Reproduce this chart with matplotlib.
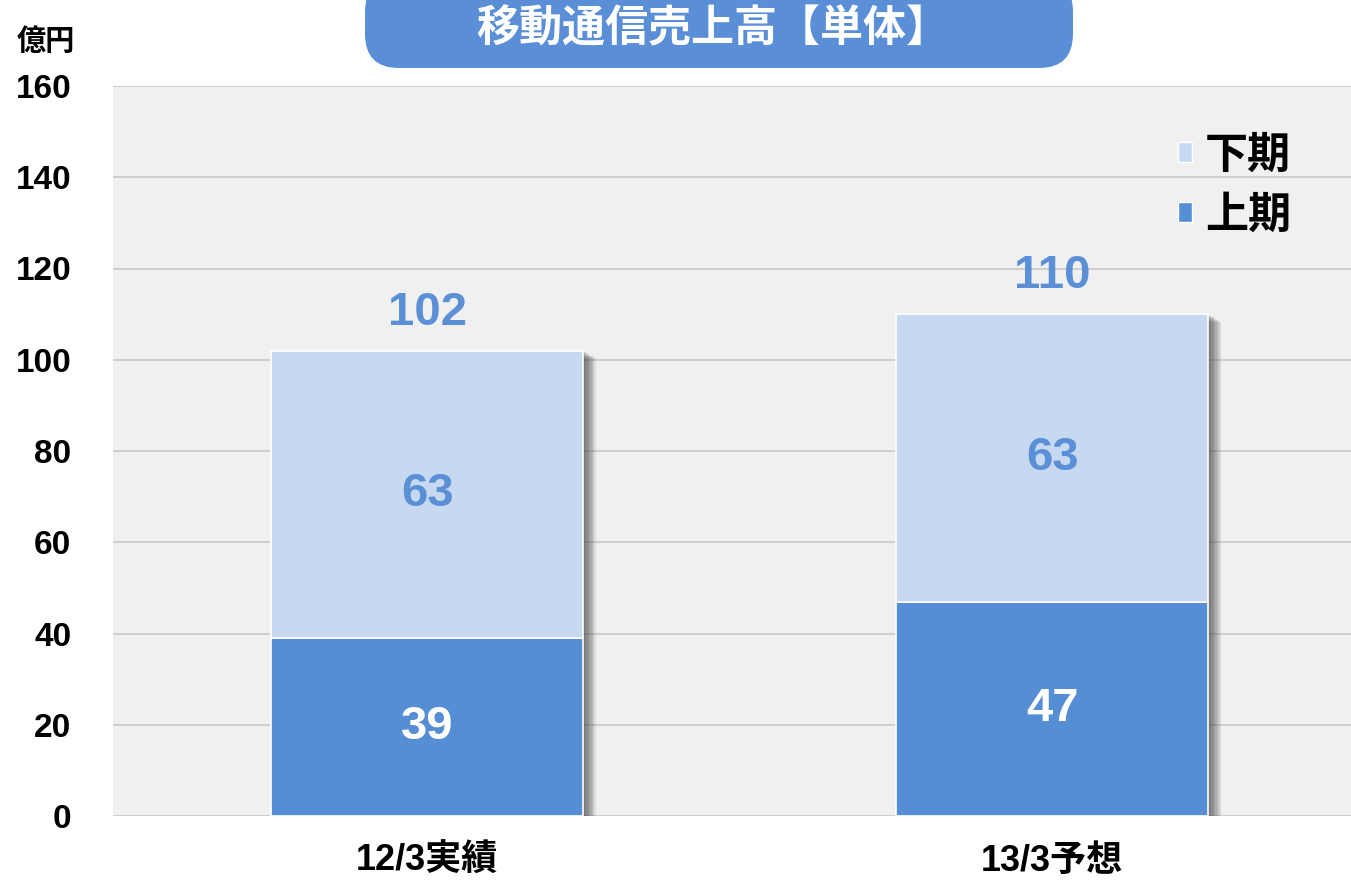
import matplotlib.pyplot as plt
import matplotlib.patheffects as pe
from matplotlib.patches import FancyBboxPatch, Patch

plt.rcParams['font.family'] = ['Liberation Sans', 'Noto Sans CJK JP', 'DejaVu Sans']
plt.rcParams['font.weight'] = 'bold'

# data
categories = ['12/3実績', '13/3予想']
first_half = [39, 47]     # 上期
second_half = [63, 63]    # 下期
totals = [102, 110]
y_ticks = [0, 20, 40, 60, 80, 100, 120, 140, 160]

dark = '#558ed5'
light = '#c6d9f0'
label_blue = '#5b8fd6'

fig = plt.figure(figsize=(13.51, 8.81), dpi=100)
ax = fig.add_axes([113 / 1351, 65 / 881, 1238 / 1351, 730 / 881])
ax.set_facecolor('#f0f0f0')

x = list(range(len(categories)))
w = 0.5

# soft shadow behind each full stack (layered offsets)
shadow = [pe.SimplePatchShadow(offset=(o, -o * 0.6), shadow_rgbFace='#404040', alpha=0.11)
          for o in (1, 2, 3, 4, 5, 6, 7, 8, 9)]
ax.bar(x, totals, w, color='none', zorder=2, path_effects=shadow)

ax.bar(x, first_half, w, color=dark, edgecolor='white', linewidth=1.2, zorder=3)
ax.bar(x, second_half, w, bottom=first_half, color=light, edgecolor='white',
       linewidth=1.2, zorder=3)

for i in x:
    ax.text(i, first_half[i] / 2, str(first_half[i]), ha='center', va='center',
            color='white', fontsize=34, fontweight='bold', zorder=4)
    ax.text(i, first_half[i] + second_half[i] / 2, str(second_half[i]), ha='center',
            va='center', color=label_blue, fontsize=34, fontweight='bold', zorder=4)
    ax.text(i, totals[i] + 8.3, str(totals[i]), ha='center', va='center',
            color=label_blue, fontsize=34, fontweight='bold', zorder=4)

ax.set_xlim(-0.5024, 1.478)
ax.set_ylim(0, 160)
ax.set_yticks(y_ticks)
ax.set_yticklabels([str(v) for v in y_ticks], fontsize=24, fontweight='bold')
ax.set_xticks(x)
ax.set_xticklabels(categories, fontsize=26, fontweight='bold')
ax.tick_params(axis='y', length=0, pad=30)
ax.tick_params(axis='x', length=0, pad=20)
ax.grid(axis='y', color='#c8c8c8', linewidth=1.2, zorder=0)
ax.set_axisbelow(True)
for s in ax.spines.values():
    s.set_visible(False)

handles = [Patch(facecolor=light, edgecolor='white'), Patch(facecolor=dark, edgecolor='white')]
ax.legend(handles, ['下期', '上期'], loc='upper right', bbox_to_anchor=(0.983, 0.984),
          frameon=False, handlelength=0.33, handleheight=0.33,
          handletextpad=0.3, labelspacing=0.45, prop={'weight': 'bold', 'size': 31})

# title pill
pill = FancyBboxPatch((3.65, 8.13), 7.08, 0.9,
                      boxstyle='round,pad=0,rounding_size=0.34',
                      transform=fig.dpi_scale_trans, facecolor='#5a8fd8',
                      edgecolor='none', clip_on=False)
fig.patches.append(pill)
fig.text(713 / 1351, 1 - 30 / 881, '移動通信売上高【単体】', ha='center', va='center',
         color='white', fontsize=31, fontweight='bold')

fig.text(46 / 1351, 1 - 42 / 881, '億円', ha='center', va='center',
         fontsize=21, fontweight='bold')

fig.savefig('out.png', dpi=100)
